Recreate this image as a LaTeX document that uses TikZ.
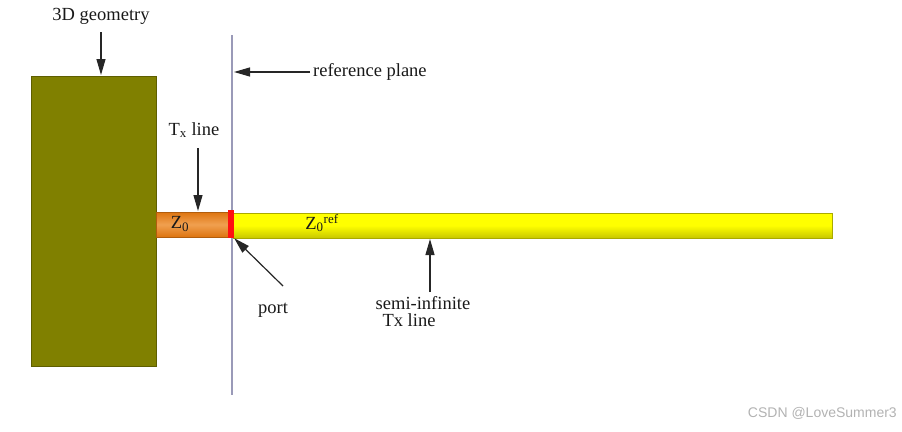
\documentclass[tikz,border=0pt]{standalone}
\usepackage{fontspec}
\setmainfont{Liberation Serif}
\usetikzlibrary{arrows.meta}
\definecolor{olivebox}{HTML}{808000}
\definecolor{oliveedge}{HTML}{5E5E00}
\definecolor{tuborange}{HTML}{DD7410}
\definecolor{tuborangelt}{HTML}{F0A050}
\definecolor{tubyellow}{HTML}{FFFF00}
\definecolor{tubyellowdk}{HTML}{C8C800}
\definecolor{planecol}{HTML}{9A9AB8}
\definecolor{portred}{HTML}{FF1010}
\tikzset{
  lbl/.style={font=\fontsize{18.5}{20}\selectfont, inner sep=0pt, text=black!90},
  pointer/.style={draw=black!85, line width=1.2pt, -{Triangle[length=16pt,width=9pt]}},
}
\begin{document}
\begin{tikzpicture}[x=1pt,y=-1pt]
\useasboundingbox (0,0) rectangle (902,431);
% 3D geometry box
\node (box) [draw=oliveedge, line width=1pt, fill=olivebox, minimum width=125pt, minimum height=290pt, inner sep=0pt, anchor=north west] at (31,76) {};
% orange Tx line
\shade[top color=tuborange, bottom color=tuborange, middle color=tuborangelt] (156,212) rectangle (230,237);
\draw[tuborange!80!black, line width=0.5pt] (156,212) rectangle (230,237);
% yellow semi-infinite line
\shade[top color=tubyellow, bottom color=tubyellowdk, middle color=tubyellow] (232,213) rectangle (832,238);
\draw[tubyellowdk!85!black, line width=0.6pt] (232,213) rectangle (832,238);
% reference plane
\coordinate (pt) at (232,35);
\coordinate (pb) at (232,395);
\draw[planecol, line width=1.2pt] (pt) -- (pb);
% port
\node (port) [fill=portred, minimum width=6pt, minimum height=28pt, inner sep=0pt] at (231,224) {};
% labels
\node (geo) [lbl] at (101,16) {3D geometry};
\coordinate (geoT) at (101,32);
\coordinate (geoH) at (101,75);
\draw[pointer] (geoT) -- (geoH);

\node (ref) [lbl, anchor=west] at (313,72) {reference plane};
\coordinate (refH) at (234,72);
\draw[pointer] (ref.west) ++(-3,0) -- (refH);

\node (tx) [lbl] at (194,130) {T\textsubscript{x} line};
\coordinate (txT) at (198,148);
\coordinate (txH) at (198,211);
\draw[pointer] (txT) -- (txH);

\node (z0) [lbl] at (180,224) {Z\textsubscript{0}};
\node (z0ref) [lbl] at (322,223) {Z\textsubscript{0}\textsuperscript{ref}};

\node (portlbl) [lbl] at (273,310) {port};
\coordinate (portT) at (283,286);
\draw[pointer] (portT) -- (port.south east);

\node (semi) [lbl] at (423,303) {semi-infinite};
\node (semi2) [lbl] at (409,320) {Tx line};
\coordinate (semiT) at (430,292);
\coordinate (semiH) at (430,239);
\draw[pointer] (semiT) -- (semiH);

\node (wm) [font=\fontspec{Liberation Sans}\fontsize{14}{16}\selectfont, text=black!30, anchor=east, inner sep=0pt] at (897,413) {CSDN @LoveSummer3};
\end{tikzpicture}
\end{document}
